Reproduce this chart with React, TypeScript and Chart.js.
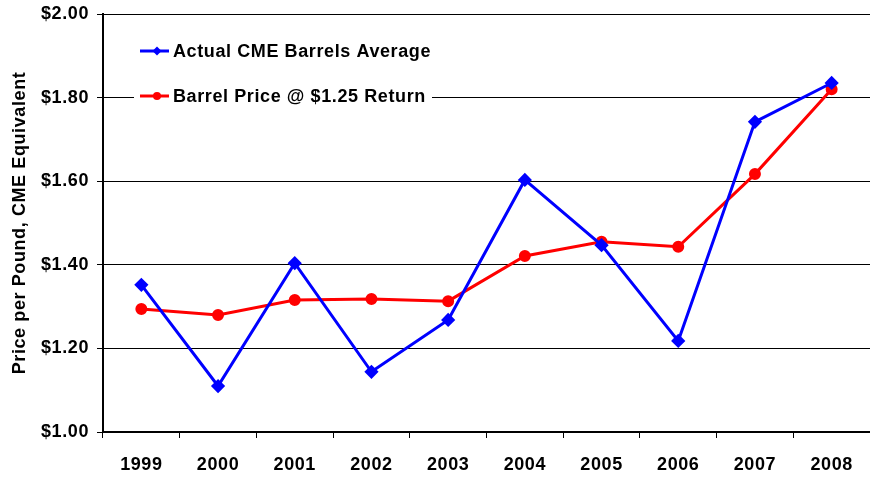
import React, { useEffect, useRef } from "react";
import { Chart, registerables } from "chart.js";

Chart.register(...registerables);

const years = ["1999", "2000", "2001", "2002", "2003", "2004", "2005", "2006", "2007", "2008"];
const actualCME = [1.352, 1.11, 1.404, 1.144, 1.268, 1.603, 1.447, 1.218, 1.742, 1.835];
const barrelPrice = [1.294, 1.28, 1.316, 1.318, 1.313, 1.421, 1.455, 1.443, 1.617, 1.82];
const seriesNames = ["Actual CME Barrels Average", "Barrel Price @ $1.25 Return"];
const seriesColors = ["#0000FF", "#FF0000"];
const yTitle = "Price per Pound, CME Equivalent";

const FONT = "'Liberation Sans', Arial, sans-serif";
const SPACING = "0.6px";

const spacingPlugin = {
  id: "spacing",
  beforeInit(chart: any) {
    chart.ctx.letterSpacing = SPACING;
  },
  beforeUpdate(chart: any) {
    chart.ctx.letterSpacing = SPACING;
  },
  beforeDraw(chart: any) {
    chart.ctx.letterSpacing = SPACING;
  },
};

const legendPlugin = {
  id: "customLegend",
  afterDraw(chart: any) {
    const ctx = chart.ctx;
    ctx.save();
    ctx.letterSpacing = SPACING;
    ctx.fillStyle = "#fff";
    ctx.fillRect(134, 28, 298, 86);
    const rows = [51, 96];
    rows.forEach((y, i) => {
      const c = seriesColors[i];
      ctx.strokeStyle = c;
      ctx.lineWidth = 3;
      ctx.beginPath();
      ctx.moveTo(140, y);
      ctx.lineTo(169, y);
      ctx.stroke();
      ctx.fillStyle = c;
      ctx.beginPath();
      if (i === 0) {
        ctx.moveTo(157, y - 4.5);
        ctx.lineTo(161.5, y);
        ctx.lineTo(157, y + 4.5);
        ctx.lineTo(152.5, y);
        ctx.closePath();
      } else {
        ctx.arc(157, y, 4, 0, Math.PI * 2);
      }
      ctx.fill();
      ctx.fillStyle = "#000";
      ctx.font = `bold 18px ${FONT}`;
      ctx.textBaseline = "middle";
      ctx.textAlign = "left";
      ctx.fillText(seriesNames[i], 173, y + 1);
    });
    ctx.restore();
  },
};

export default function App() {
  const ref = useRef<HTMLCanvasElement>(null);
  useEffect(() => {
    if (!ref.current) return;
    const chart = new Chart(ref.current, {
      type: "line",
      data: {
        labels: years,
        datasets: [
          {
            label: seriesNames[0],
            data: actualCME,
            borderColor: seriesColors[0],
            backgroundColor: seriesColors[0],
            borderWidth: 3,
            pointStyle: "rectRot",
            pointRadius: 5,
            tension: 0,
          },
          {
            label: seriesNames[1],
            data: barrelPrice,
            borderColor: seriesColors[1],
            backgroundColor: seriesColors[1],
            borderWidth: 3,
            pointStyle: "circle",
            pointRadius: 4.5,
            tension: 0,
          },
        ],
      },
      options: {
        responsive: false,
        animation: false,
        layout: { padding: { top: 14, right: 0, left: 0, bottom: 0 } },
        plugins: { legend: { display: false }, tooltip: { enabled: false } },
        scales: {
          x: {
            offset: true,
            grid: {
              offset: true,
              drawOnChartArea: false,
              drawTicks: true,
              tickLength: 6,
              color: "#000",
              lineWidth: 1,
            },
            border: { color: "#000", width: 2 },
            ticks: {
              color: "#000",
              font: { family: FONT, size: 18, weight: "bold" },
              padding: 16,
              maxRotation: 0,
            },
            afterFit(scale: any) {
              scale.height = 45;
              scale.paddingLeft = 0;
              scale.paddingRight = 0;
            },
          },
          y: {
            min: 1,
            max: 2,
            ticks: {
              stepSize: 0.2,
              color: "#000",
              font: { family: FONT, size: 18, weight: "bold" },
              padding: 8,
              callback: (v: any) => "$" + Number(v).toFixed(2),
            },
            grid: { color: "#000", lineWidth: 1, tickLength: 6 },
            border: { color: "#000", width: 2 },
            title: {
              display: true,
              text: yTitle,
              color: "#000",
              font: { family: FONT, size: 18, weight: "bold" },
              padding: { top: 9, bottom: 0 },
            },
            afterFit(scale: any) {
              scale.width = 103;
              scale.paddingTop = 0;
              scale.paddingBottom = 0;
            },
          },
        },
      },
      plugins: [spacingPlugin, legendPlugin],
    });
    return () => chart.destroy();
  }, []);
  return (
    <div
      style={{
        position: "fixed",
        left: 0,
        top: 0,
        width: 870,
        height: 477,
        overflow: "hidden",
        background: "#fff",
      }}
    >
      <canvas ref={ref} width={878} height={477} style={{ display: "block" }} />
    </div>
  );
}
